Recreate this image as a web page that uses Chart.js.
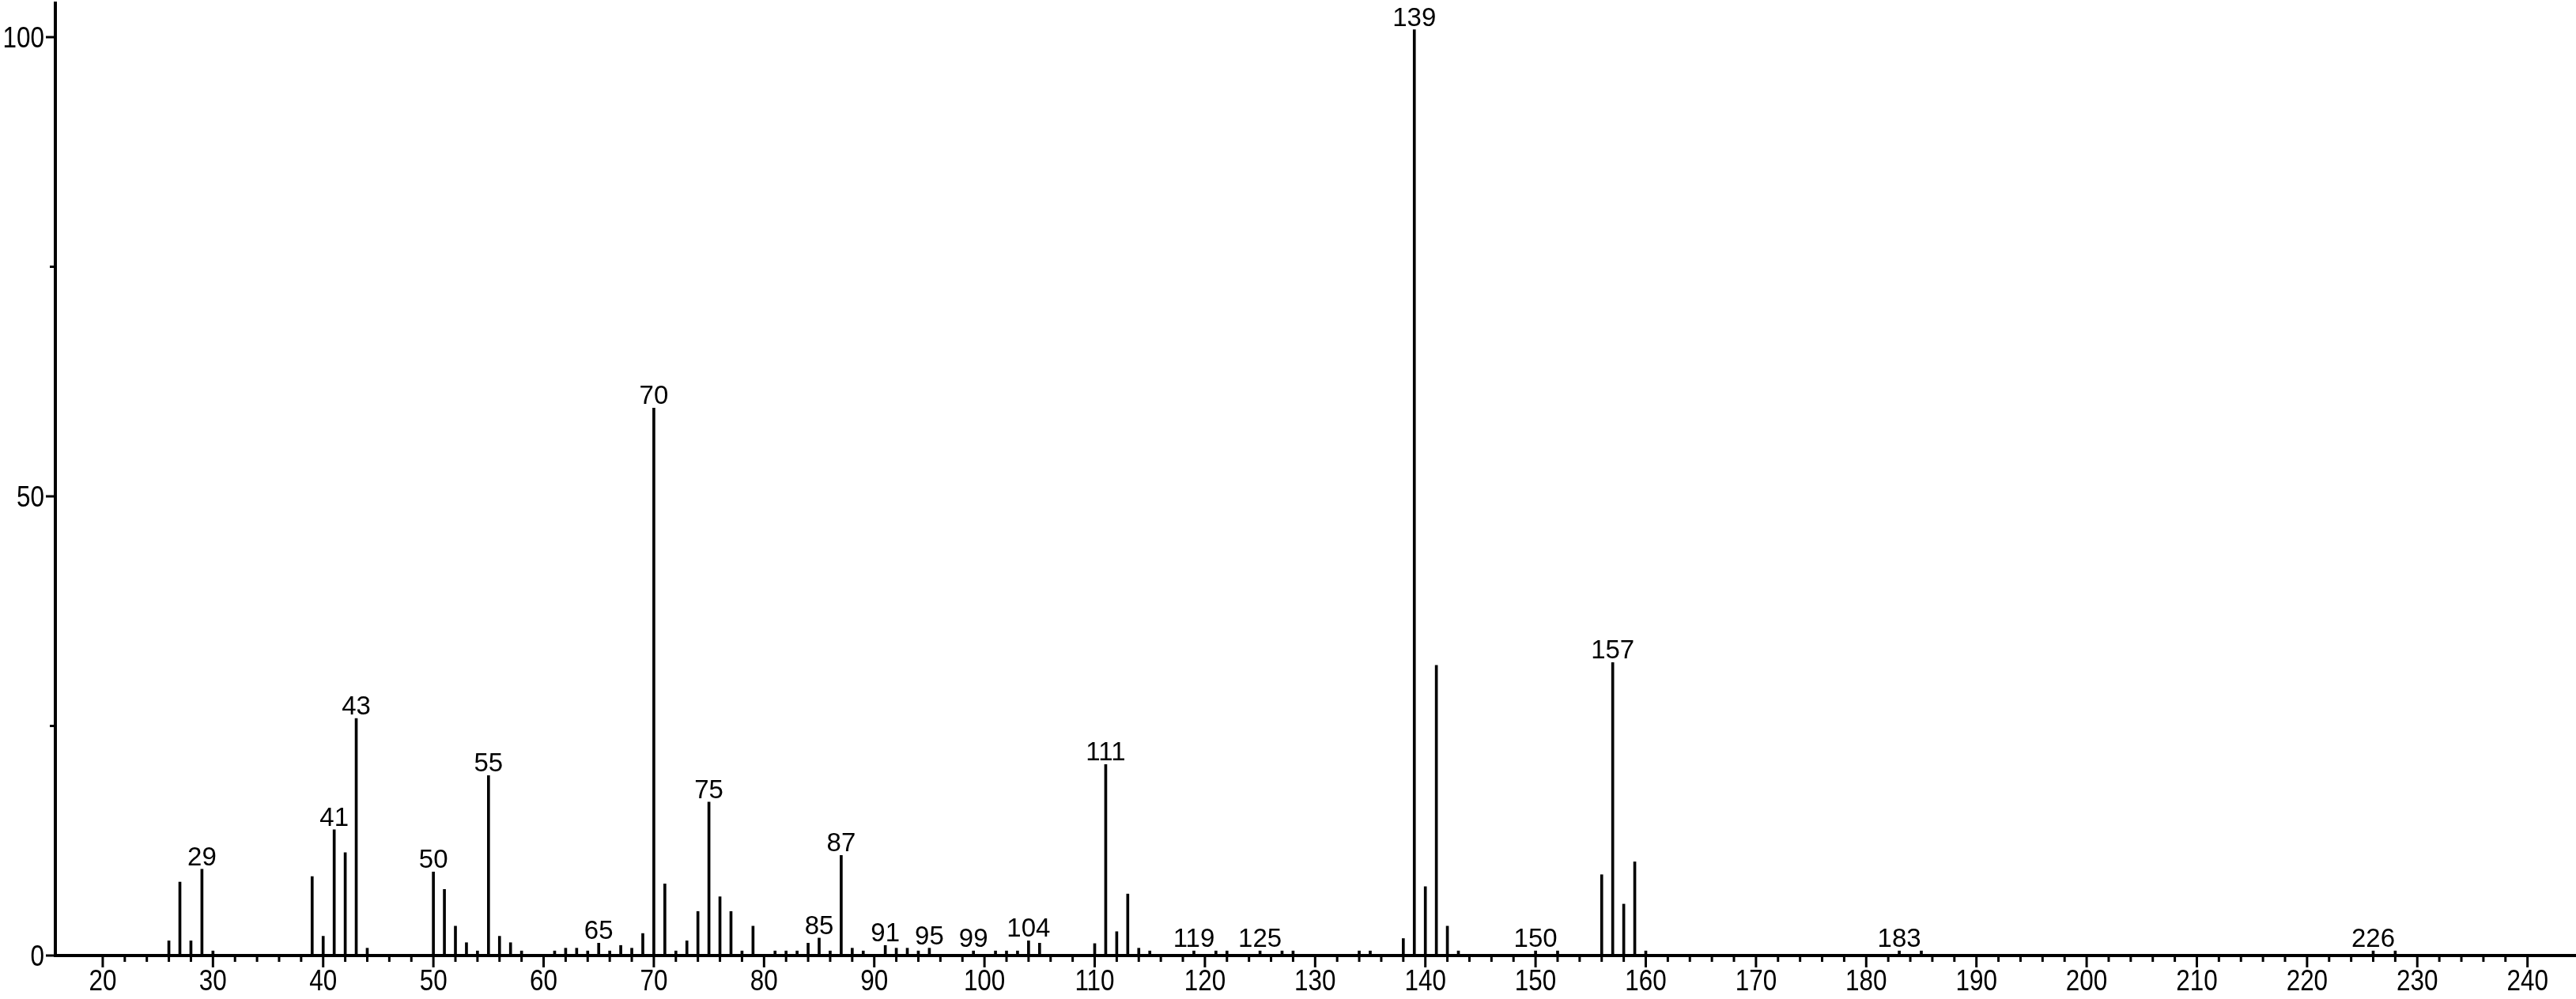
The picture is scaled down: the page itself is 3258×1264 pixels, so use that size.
<!DOCTYPE html>
<html>
<head>
<meta charset="utf-8">
<title>Mass spectrum</title>
<script src="https://cdn.jsdelivr.net/npm/chart.js@4.4.1/dist/chart.umd.min.js"></script>
<style>
    html, body { margin: 0; padding: 0; background: #fff; }
    #wrap { width: 3258px; height: 1264px; }
</style>
</head>
<body>
<div id="wrap"><canvas id="spectrum" width="3258" height="1264"></canvas></div>
<script>
// m/z values and relative intensities
const masses = [
    26, 27, 28, 29, 30, 39, 40, 41, 42, 43, 44,
    50, 51, 52, 53, 54, 55, 56, 57, 58,
    61, 62, 63, 64, 65, 66, 67, 68, 69, 70, 71, 72, 73, 74, 75, 76, 77, 78, 79,
    81, 82, 83, 84, 85, 86, 87, 88, 89, 91, 92, 93, 94, 95, 99,
    101, 102, 103, 104, 105, 110, 111, 112, 113, 114, 115, 119,
    121, 122, 125, 127, 128, 134, 135, 138, 139, 140, 141, 142, 143,
    150, 152, 156, 157, 158, 159, 160, 183, 185, 226, 228,
];

const intensities = [
    1.6, 8.0, 1.6, 9.4, 0.5, 8.6, 2.1, 13.7, 11.2, 25.8, 0.8,
    9.1, 7.2, 3.2, 1.4, 0.5, 19.6, 2.1, 1.4, 0.5,
    0.5, 0.8, 0.8, 0.5, 1.35, 0.5, 1.1, 0.8, 2.4, 59.6, 7.8, 0.5, 1.6, 4.8, 16.7, 6.4, 4.8, 0.5, 3.2,
    0.5, 0.5, 0.5, 1.35, 1.9, 0.5, 10.9, 0.8, 0.5, 1.1, 0.8, 0.8, 0.5, 0.8, 0.5,
    0.5, 0.5, 0.5, 1.6, 1.35, 1.3, 20.8, 2.6, 6.7, 0.8, 0.5, 0.5,
    0.5, 0.5, 0.5, 0.5, 0.5, 0.5, 0.5, 1.85, 100.8, 7.5, 31.6, 3.2, 0.5,
    0.5, 0.5, 8.8, 31.9, 5.6, 10.2, 0.5, 0.5, 0.5, 0.5, 0.5,
];

const labeledMasses = [
    29, 41, 43, 50, 55, 65, 70, 75, 85, 87, 91, 95, 99, 104,
    111, 119, 125, 139, 150, 157, 183, 226,
];

const xTickLabels = [20, 30, 40, 50, 60, 70, 80, 90, 100, 110, 120, 130, 140, 150, 160, 170, 180, 190, 200, 210, 220, 230, 240];
const yTickLabels = [0, 50, 100];
const yMinorTicks = [25, 75];

const tickFont = '37px "Liberation Sans", Arial, sans-serif';
const peakFont = '33px "Liberation Sans", Arial, sans-serif';
const tickSqueeze = 0.85;

function drawTickMarks(ctx, x, y) {
    const base = y.getPixelForValue(0);
    const left = x.left;

    ctx.beginPath();
    xTickLabels.forEach((value) => {
        const px = x.getPixelForValue(value);
        ctx.moveTo(px, base);
        ctx.lineTo(px, base + 15);
    });
    for (let value = 22; value <= 238; value += 2) {
        if (value % 10 === 0) {
            continue;
        }
        const px = x.getPixelForValue(value);
        ctx.moveTo(px, base);
        ctx.lineTo(px, base + 8);
    }
    yTickLabels.forEach((value) => {
        const py = y.getPixelForValue(value);
        ctx.moveTo(left, py);
        ctx.lineTo(left - 12, py);
    });
    yMinorTicks.forEach((value) => {
        const py = y.getPixelForValue(value);
        ctx.moveTo(left, py);
        ctx.lineTo(left - 7, py);
    });
    ctx.stroke();
}

// narrow tick labels, squeezed horizontally like the original plot
function drawSqueezedText(ctx, text, px, py, align) {
    ctx.save();
    ctx.translate(px, py);
    ctx.scale(tickSqueeze, 1);
    ctx.textAlign = align;
    ctx.fillText(text, 0, 0);
    ctx.restore();
}

function drawTickLabels(ctx, x, y) {
    const base = y.getPixelForValue(0);
    const left = x.left;

    ctx.font = tickFont;
    ctx.textBaseline = 'alphabetic';
    xTickLabels.forEach((value) => {
        drawSqueezedText(ctx, String(value), x.getPixelForValue(value), base + 44, 'center');
    });
    yTickLabels.forEach((value) => {
        drawSqueezedText(ctx, String(value), left - 14, y.getPixelForValue(value) + 13, 'right');
    });
}

function drawPeakLabels(ctx, x, y) {
    ctx.font = peakFont;
    ctx.textAlign = 'center';
    ctx.textBaseline = 'alphabetic';

    labeledMasses.forEach((mass) => {
        const index = masses.indexOf(mass);
        if (index < 0) {
            return;
        }
        const top = y.getPixelForValue(intensities[index]);
        ctx.fillText(String(mass), x.getPixelForValue(mass), top - 5);
    });
}

const spectrumDecorations = {
    id: 'spectrumDecorations',
    afterDraw(chart) {
        const { ctx, scales } = chart;

        ctx.save();
        ctx.strokeStyle = '#000';
        ctx.fillStyle = '#000';
        ctx.lineWidth = 3;
        drawTickMarks(ctx, scales.x, scales.y);
        drawTickLabels(ctx, scales.x, scales.y);
        drawPeakLabels(ctx, scales.x, scales.y);
        ctx.restore();
    },
};

new Chart(document.getElementById('spectrum'), {
    type: 'bar',
    data: {
        datasets: [{
            data: masses.map((mass, i) => ({ x: mass, y: intensities[i] })),
            backgroundColor: '#000',
            borderWidth: 0,
            barThickness: 3,
        }],
    },
    options: {
        responsive: false,
        animation: false,
        devicePixelRatio: 1,
        layout: { padding: { top: 4, right: 0, bottom: 0, left: 0 } },
        plugins: {
            legend: { display: false },
            tooltip: { enabled: false },
        },
        scales: {
            x: {
                type: 'linear',
                offset: false,
                min: 15.7,
                max: 244.4,
                grid: { display: false, drawTicks: false },
                border: { display: true, color: '#000', width: 4 },
                ticks: { display: false },
                afterFit: (scale) => {
                    scale.height = 55;
                    scale.paddingLeft = 0;
                    scale.paddingRight = 0;
                },
            },
            y: {
                type: 'linear',
                min: 0,
                max: 103.7,
                grid: { display: false, drawTicks: false },
                border: { display: true, color: '#000', width: 4 },
                ticks: { display: false },
                afterFit: (scale) => {
                    scale.width = 70;
                    scale.paddingTop = 0;
                    scale.paddingBottom = 0;
                },
            },
        },
    },
    plugins: [spectrumDecorations],
});
</script>
</body>
</html>
